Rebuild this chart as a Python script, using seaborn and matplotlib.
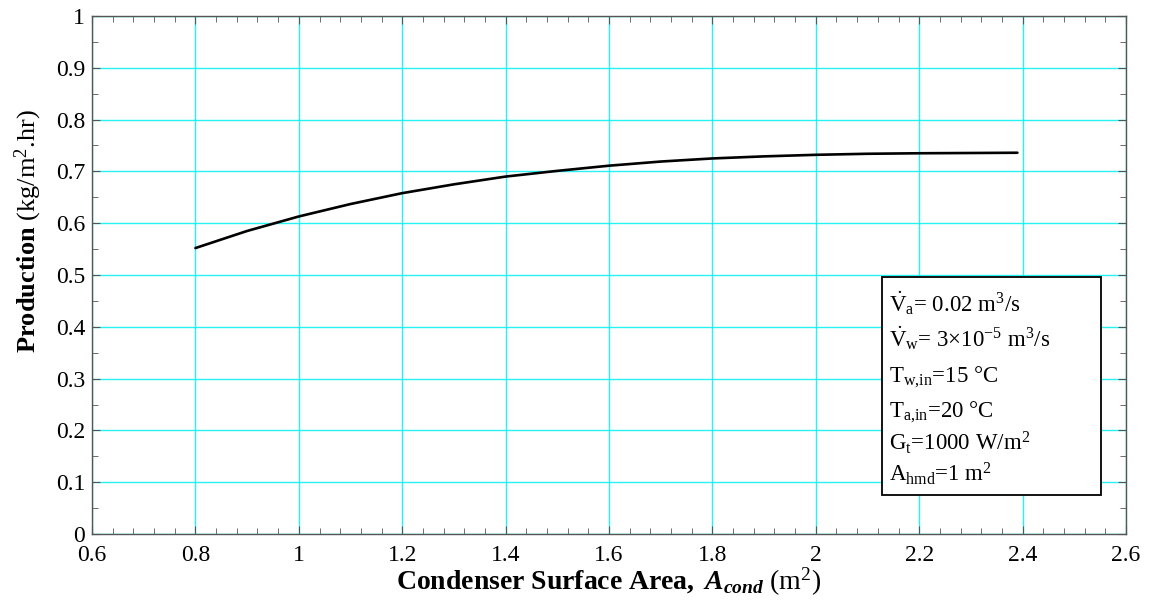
import numpy as np
import pandas as pd
import matplotlib
matplotlib.use("Agg")
import matplotlib.pyplot as plt
import seaborn as sns
from matplotlib.ticker import MultipleLocator, AutoMinorLocator, FuncFormatter
from matplotlib.patches import Rectangle

area = [0.8, 0.9, 1.0, 1.1, 1.2, 1.3, 1.4, 1.5, 1.6, 1.7, 1.8, 1.9, 2.0, 2.1, 2.2, 2.3, 2.39]
production = [0.552, 0.585, 0.613, 0.637, 0.658, 0.675, 0.690, 0.701, 0.711, 0.719,
              0.725, 0.729, 0.732, 0.734, 0.735, 0.7355, 0.736]
legend_lines = [
    r"$\dot{\mathrm{V}}_\mathrm{a}$= 0.02 m$^3$/s",
    r"$\dot{\mathrm{V}}_\mathrm{w}$= 3$\times$10$^{\mathrm{-5}}$ m$^3$/s",
    r"T$_\mathrm{w{,}in}$=15 °C",
    r"T$_\mathrm{a{,}in}$=20 °C",
    r"G$_\mathrm{t}$=1000 W/m$^2$",
    r"A$_\mathrm{hmd}$=1 m$^2$",
]

sns.set_style("ticks")
plt.rcParams['font.family'] = ['Liberation Serif', 'DejaVu Serif']
plt.rcParams['mathtext.fontset'] = 'custom'
plt.rcParams['mathtext.rm'] = 'Liberation Serif'
plt.rcParams['mathtext.it'] = 'Liberation Serif:italic'
plt.rcParams['mathtext.bf'] = 'Liberation Serif:bold'
plt.rcParams['mathtext.bfit'] = 'Liberation Serif:italic:bold'
plt.rcParams['text.color'] = 'black'
plt.rcParams['axes.labelcolor'] = 'black'
plt.rcParams['xtick.labelcolor'] = 'black'
plt.rcParams['ytick.labelcolor'] = 'black'

df = pd.DataFrame({"area": area, "production": production})

fig = plt.figure(figsize=(11.52, 6.03), dpi=100)
ax = fig.add_axes([0.0799, 0.1144, 0.8975, 0.8591])
sns.lineplot(data=df, x="area", y="production", ax=ax, color="black", linewidth=1.9)

ax.set_xlim(0.6, 2.6)
ax.set_ylim(0, 1)
ax.xaxis.set_major_locator(MultipleLocator(0.2))
ax.yaxis.set_major_locator(MultipleLocator(0.1))
ax.xaxis.set_minor_locator(AutoMinorLocator(5))
ax.yaxis.set_minor_locator(AutoMinorLocator(2))
ax.xaxis.set_major_formatter(FuncFormatter(lambda v, p: f"{v:g}"))
ax.yaxis.set_major_formatter(FuncFormatter(lambda v, p: f"{v:g}"))
ax.grid(True, which="major", color="#00f0f0", linewidth=1.0, alpha=0.85)
ax.set_axisbelow(True)
ax.tick_params(which="both", direction="in", top=True, right=True, color="#555555",
               labelsize=17, labelcolor="black")
ax.tick_params(axis="x", which="major", length=6, pad=8)
ax.tick_params(axis="y", which="major", length=6, pad=5)
ax.tick_params(which="minor", length=4)
for s in ax.spines.values():
    s.set_color("#555555")
    s.set_linewidth(1.0)

ax.set_xlabel(r"$\mathbf{Condenser\ Surface\ Area,}\ \mathbfit{A_{cond}}$ (m$^2$)", fontsize=20,
              labelpad=0, color="black")
ax.set_ylabel(r"$\mathbf{Production}$ (kg/m$^2$.hr)", fontsize=19, color="black")
ax.yaxis.set_label_coords(-0.046, 0.585)

ax.add_patch(Rectangle((2.128, 0.075), 0.424, 0.421, facecolor="white", edgecolor="black",
                       linewidth=1.3, zorder=5))
baselines = [0.4286, 0.361, 0.293, 0.226, 0.161, 0.102]
for txt, yb in zip(legend_lines, baselines):
    ax.text(2.142, yb, txt, fontsize=16.5, va="baseline", ha="left", zorder=6, color="black")

fig.savefig("out.png", dpi=100)
